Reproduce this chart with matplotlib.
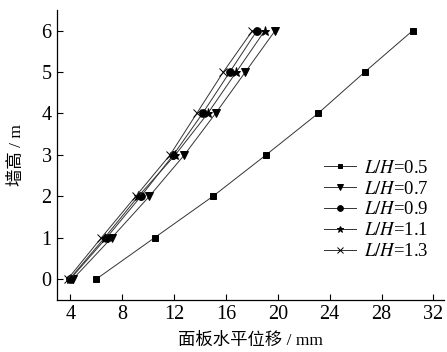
import matplotlib
matplotlib.use("Agg")
import matplotlib.pyplot as plt

plt.rcParams.update({
    "font.family": ["Liberation Serif", "Noto Sans CJK SC"],
    "mathtext.fontset": "stix",
    "font.size": 13,
})

# wall height (m)
heights = [0, 1, 2, 3, 4, 5, 6]
# panel horizontal displacement (mm) for each L/H
disp_05 = [6.0, 10.5, 15.0, 19.1, 23.1, 26.7, 30.4]
disp_07 = [4.2, 7.2, 10.1, 12.8, 15.2, 17.5, 19.8]
disp_09 = [4.0, 6.8, 9.45, 11.95, 14.2, 16.3, 18.4]
disp_11 = [3.95, 6.65, 9.25, 12.1, 14.6, 16.8, 19.0]
disp_13 = [3.8, 6.4, 9.05, 11.7, 13.75, 15.8, 18.05]

labels = ["0.5", "0.7", "0.9", "1.1", "1.3"]
series = [disp_05, disp_07, disp_09, disp_11, disp_13]
markers = ["s", "v", "o", "*", "x"]
msizes = [4.5, 5.5, 5.5, 6.5, 5.5]

fig = plt.figure(figsize=(4.47, 3.52), dpi=100)
ax = fig.add_axes([0.128, 0.148, 0.865, 0.824])

for lab, xs, m, ms in zip(labels, series, markers, msizes):
    ax.plot(xs, heights, color="#333333", linewidth=0.7, marker=m,
            markersize=ms, markerfacecolor="black", markeredgecolor="black",
            markeredgewidth=0.7, label=rf"$L/H$=" + lab)

ax.set_xlim(3, 32.8)
ax.set_ylim(-0.5, 6.5)
ax.set_xticks([4, 8, 12, 16, 20, 24, 28, 32])
ax.set_yticks([0, 1, 2, 3, 4, 5, 6])
ax.tick_params(direction="in", length=4, width=0.8, labelsize=14.5, pad=4)
for s in ["top", "right"]:
    ax.spines[s].set_visible(False)
for s in ["left", "bottom"]:
    ax.spines[s].set_linewidth(0.9)

ax.set_xlabel("面板水平位移 / mm", fontsize=12.5, labelpad=6)
ax.set_ylabel("墙高 / m", fontsize=12.5, labelpad=12)

ax.legend(loc="upper left", bbox_to_anchor=(0.667, 0.516), frameon=False,
          fontsize=13.5, handlelength=1.7, handletextpad=0.4,
          labelspacing=0.2, borderpad=0, markerscale=0.75)

fig.savefig("out.png", dpi=100)
